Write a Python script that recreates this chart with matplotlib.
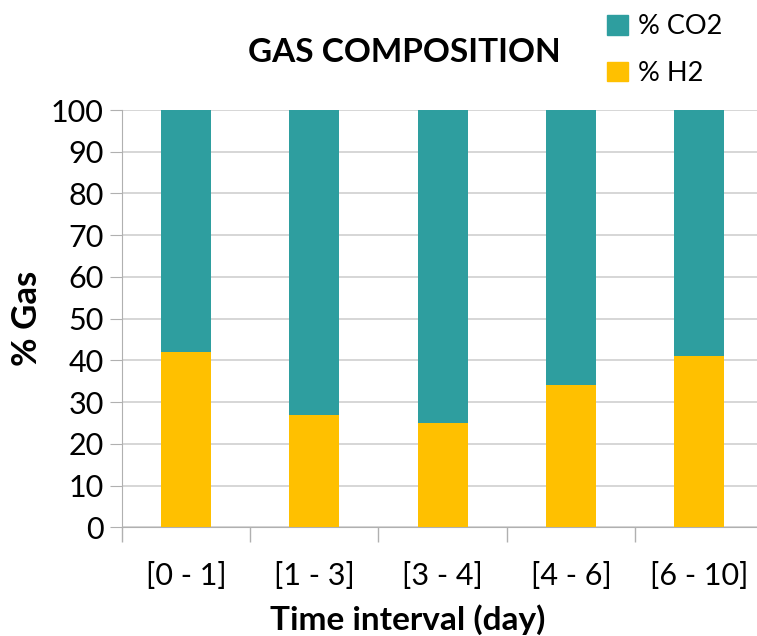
import matplotlib
matplotlib.use("Agg")
import matplotlib.pyplot as plt
import numpy as np
from matplotlib.patches import Patch

plt.rcParams['font.family'] = ['Lato', 'DejaVu Sans']

intervals = ['[0 - 1]', '[1 - 3]', '[3 - 4]', '[4 - 6]', '[6 - 10]']
h2 = [42, 27, 25, 34, 41]
co2 = [100 - v for v in h2]

teal = '#2E9E9F'
yellow = '#FFC000'

fig = plt.figure(figsize=(7.57, 6.36), dpi=100)
ax = fig.add_axes([0.161, 0.171, 0.839, 0.656])

x = np.arange(len(intervals))
ax.bar(x, h2, width=0.39, color=yellow, zorder=3)
ax.bar(x, co2, width=0.39, bottom=h2, color=teal, zorder=3)

ax.set_xlim(-0.5, 4.45)
ax.set_ylim(0, 100)
ax.set_yticks(range(0, 101, 10))
ax.yaxis.grid(True, color='#D0D0D0', linewidth=1.2, zorder=0)
ax.tick_params(axis='y', labelsize=22, length=9, color='#B0B0B0', pad=4)

ax.set_xticks(x)
ax.set_xticklabels(intervals, fontsize=22)
ax.set_xticks(np.arange(-0.5, 4.5, 1), minor=True)
ax.tick_params(axis='x', which='major', length=0, pad=25)
ax.tick_params(axis='x', which='minor', length=11, color='#B0B0B0', width=1.0)

for side in ['top', 'right']:
    ax.spines[side].set_visible(False)
ax.spines['left'].set_color('#B0B0B0')
ax.spines['bottom'].set_color('#B0B0B0')

ax.set_ylabel('% Gas', fontsize=25, fontweight='bold', labelpad=6)
ax.set_xlabel('Time interval (day)', fontsize=24, fontweight='bold')
ax.xaxis.set_label_coords(0.45, -0.185)

fig.text(0.534, 0.917, 'GAS COMPOSITION', fontsize=24, fontweight='bold',
         ha='center', va='center')

handles = [Patch(color=teal, label='% CO2'), Patch(color=yellow, label='% H2')]
fig.legend(handles=handles, loc='upper left', bbox_to_anchor=(0.77, 1.016),
           frameon=False, fontsize=19.5, handlelength=0.75, handleheight=0.75,
           handletextpad=0.4, labelspacing=0.8)

fig.savefig('out.png', dpi=100)
